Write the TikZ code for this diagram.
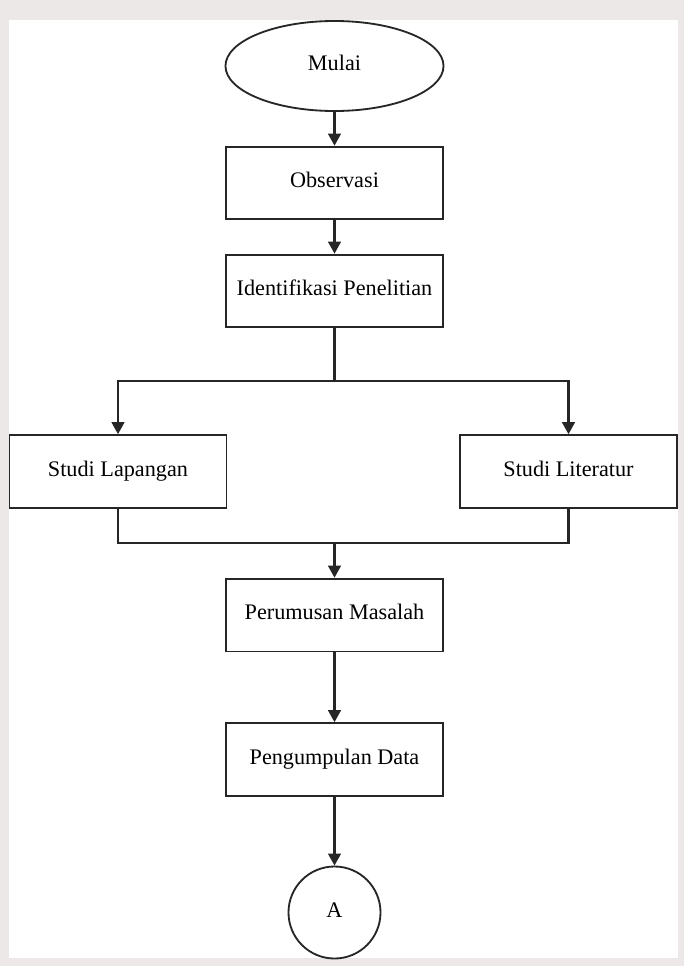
\documentclass[tikz,border=0pt]{standalone}
\usepackage{fontspec}
\setmainfont{Liberation Serif}
\usetikzlibrary{shapes.geometric,arrows.meta}

\begin{document}
\begin{tikzpicture}
  [x=0.025cm,y=-0.025cm,
   every node/.style={draw=black!85,line width=1.3pt,
     font=\fontsize{15.8}{18}\selectfont,text height=1.6ex,text depth=.1ex},
   box/.style={rectangle,minimum width=5.42cm,minimum height=1.82cm},
   start/.style={ellipse,minimum width=5.45cm,minimum height=2.25cm},
   conn/.style={circle,minimum size=2.3cm},
   link/.style={draw=black!85,line width=1.5pt},
   arr/.style={link,-{Triangle[width=9pt,length=8.5pt]}}]
  % background and page
  \fill[fill={rgb,255:red,237;green,232;blue,232}] (0,0) rectangle (684,966);
  \fill[white] (9,20) rectangle (678,958);

  \node[start] (n1) at (334.5,66) {Mulai};
  \node[box] (n2) at (334.5,183) {Observasi};
  \node[box] (n3) at (334.5,291) {Identifikasi Penelitian};
  \node[box] (n4) at (118,471.5) {Studi Lapangan};
  \node[box] (n5) at (568.5,471.5) {Studi Literatur};
  \node[box] (n6) at (334.5,615) {Perumusan Masalah};
  \node[box] (n7) at (334.5,759.5) {Pengumpulan Data};
  \node[conn] (n8) at (334.5,912.5) {A};

  \coordinate (c1) at (334.5,381);
  \coordinate (c2) at (334.5,543);

  \draw[arr] (n1) -- (n2);
  \draw[arr] (n2) -- (n3);
  \draw[link] (n3) -- (c1);
  \draw[arr] (c1) -| (n4);
  \draw[arr] (c1) -| (n5);
  \draw[link] (n4) |- (c2);
  \draw[link] (n5) |- (c2);
  \draw[arr] (c2) -- (n6);
  \draw[arr] (n6) -- (n7);
  \draw[arr] (n7) -- (n8);
\end{tikzpicture}
\end{document}
